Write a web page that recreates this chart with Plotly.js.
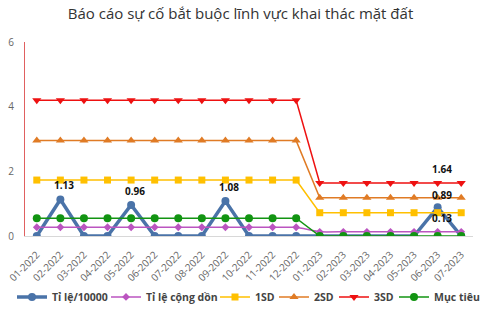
<!DOCTYPE html>
<html><head><meta charset="utf-8">
<script src="https://cdn.plot.ly/plotly-3.0.1.min.js"></script>
<style>html,body{margin:0;padding:0;background:#fff}#c{width:481px;height:320px}</style>
</head><body><div id="c"></div>
<script>
const months = ["01-2022","02-2022","03-2022","04-2022","05-2022","06-2022","07-2022","08-2022","09-2022","10-2022","11-2022","12-2022","01-2023","02-2023","03-2023","04-2023","05-2023","06-2023","07-2023"];
const tiLe = [0,1.13,0,0,0.96,0,0,0,1.08,0,0,0,0,0,0,0,0,0.89,0];
const congDon = [0.27,0.27,0.27,0.27,0.27,0.27,0.27,0.27,0.27,0.27,0.27,0.27,0.13,0.13,0.13,0.13,0.13,0.13,0.13];
const sd1 = [1.73,1.73,1.73,1.73,1.73,1.73,1.73,1.73,1.73,1.73,1.73,1.73,0.72,0.72,0.72,0.72,0.72,0.72,0.72];
const sd2 = [2.95,2.95,2.95,2.95,2.95,2.95,2.95,2.95,2.95,2.95,2.95,2.95,1.18,1.18,1.18,1.18,1.18,1.18,1.18];
const sd3 = [4.2,4.2,4.2,4.2,4.2,4.2,4.2,4.2,4.2,4.2,4.2,4.2,1.64,1.64,1.64,1.64,1.64,1.64,1.64];
const mucTieu = [0.55,0.55,0.55,0.55,0.55,0.55,0.55,0.55,0.55,0.55,0.55,0.55,0,0,0,0,0,0,0];
const seriesNames = ["Tỉ lệ/10000","Tỉ lệ cộng dồn","1SD","2SD","3SD","Mục tiêu"];
const labels = [
  {x:"02-2022", y:1.13, t:"1.13", dy:14},
  {x:"05-2022", y:0.96, t:"0.96", dy:14},
  {x:"09-2022", y:1.08, t:"1.08", dy:14},
  {x:"06-2023", y:0.89, t:"0.89", dy:12},
  {x:"06-2023", y:1.64, t:"1.64", dy:14},
  {x:"06-2023", y:0.13, t:"0.13", dy:14}
];
const styles = [
  {line:{color:"#4a73a8", width:3.5}, marker:{symbol:"circle", size:8, color:"#4a73a8"}},
  {line:{color:"#bb55c0", width:1.5, shape:"spline", smoothing:0.4}, marker:{symbol:"diamond", size:6, color:"#bb55c0"}},
  {line:{color:"#ffc000", width:1.5}, marker:{symbol:"square", size:7, color:"#ffc000"}},
  {line:{color:"#e07b25", width:1.5}, marker:{symbol:"triangle-up", size:8, color:"#e07b25"}},
  {line:{color:"#ee1111", width:1.5}, marker:{symbol:"triangle-down", size:8, color:"#ee1111"}},
  {line:{color:"#129412", width:1.5}, marker:{symbol:"circle", size:8, color:"#129412"}}
];
const values = [tiLe, congDon, sd1, sd2, sd3, mucTieu];
const legendIds = ["legend","legend2","legend3","legend4","legend5","legend6"];
const legendLeft = [12,106,215,274,334,394];
const traces = values.map((v,i) => Object.assign({type:"scatter", mode:"lines+markers", x:months, y:v, name:seriesNames[i], legend:legendIds[i]}, styles[i]));
const layout = {
  width:481, height:320,
  margin:{l:25, r:8, t:42, b:84, autoexpand:false},
  paper_bgcolor:"#fff", plot_bgcolor:"#fff",
  font:{family:"Open Sans, DejaVu Sans, sans-serif", color:"#666"},
  title:{text:"Báo cáo sự cố bắt buộc lĩnh vực khai thác mặt đất", x:0.5, xanchor:"center", y:0.958, yanchor:"middle", font:{size:15, color:"#333"}},
  xaxis:{type:"category", range:[-0.5,18.5], tickangle:-45, tickfont:{size:10, color:"#666"}, showgrid:false, showline:true, linecolor:"#d8d8d8", linewidth:1, ticks:"", zeroline:false, ticklabelstandoff:8, automargin:false},
  yaxis:{range:[0,6], dtick:2, tickfont:{size:10, color:"#666"}, showgrid:false, showline:true, linecolor:"#e06060", linewidth:1, ticks:"", zeroline:false, ticklabelstandoff:8, automargin:false},
  showlegend:true,
  annotations: labels.map(l => ({x:l.x, y:l.y, text:l.t, showarrow:false, xref:"x", yref:"y", yshift:l.dy, xshift:4, font:{size:10, color:"#111", weight:"bold"}}))
};
legendIds.forEach((id,i) => {
  layout[id] = {orientation:"h", xref:"paper", x:(legendLeft[i]-25)/448, xanchor:"left", y:-0.314, yanchor:"middle", font:{size:10.5, color:"#444", weight:"bold"}, bgcolor:"rgba(0,0,0,0)"};
});
Plotly.newPlot("c", traces, layout, {displayModeBar:false, staticPlot:true});
</script></body></html>
